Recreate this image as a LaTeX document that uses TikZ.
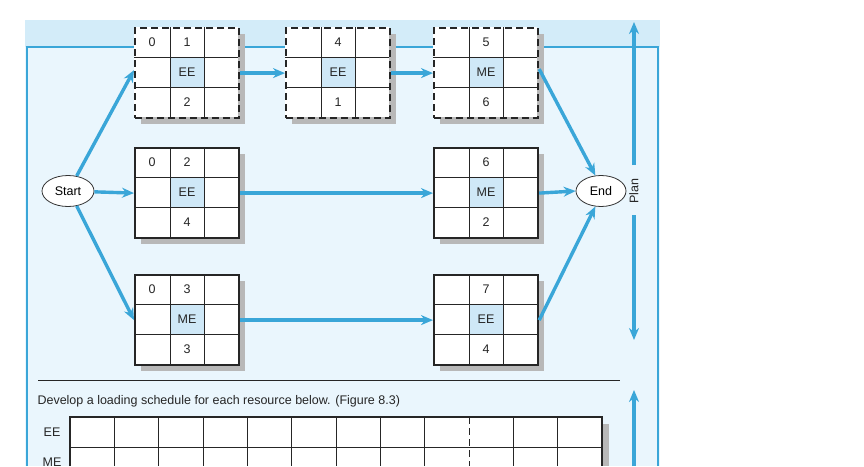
\documentclass[tikz,border=0pt]{standalone}
\usepackage{fontspec}
\setmainfont{Liberation Sans}
\usetikzlibrary{arrows.meta,shapes.geometric}
\definecolor{fb}{HTML}{3AA6D8}
\definecolor{bgl}{HTML}{EAF6FD}
\definecolor{bgd}{HTML}{D3ECF9}
\definecolor{cell}{HTML}{CFE8F7}
\definecolor{shd}{HTML}{B8B8B8}
\tikzset{x=1pt,y=-1pt,
 conn/.style={fb,line width=3.4pt,-{Stealth[length=12pt,width=10pt]}},
 lbl/.style={font=\fontsize{12.5}{14}\selectfont,text=black!85},
 gridl/.style={black!85,line width=0.8pt},
 ell/.style={ellipse,draw=black!80,fill=white,line width=0.8pt,minimum width=52pt,minimum height=31pt,inner sep=0pt,font=\fontsize{12.5}{14}\selectfont}}
\newcommand\actbox[8]{%
 \fill[shd] (#2+7,#3+7) rectangle (#2+111,#3+97);
 \fill[white] (#2,#3) rectangle (#2+104,#3+90);
 \fill[cell] (#2+36,#3+30) rectangle (#2+70,#3+60);
 \draw[gridl,line width=1pt] (#2+36,#3)--(#2+36,#3+90) (#2+70,#3)--(#2+70,#3+90)
   (#2,#3+30)--(#2+104,#3+30) (#2,#3+60)--(#2+104,#3+60);
 \node[draw=black!85,line width=2.2pt,#8,minimum width=104pt,minimum height=90pt,inner sep=0pt,anchor=north west] (#1) at (#2,#3) {};
 \node[lbl] at (#2+18,#3+15) {#4};
 \node[lbl] at (#2+53,#3+15) {#5};
 \node[lbl] at (#2+53,#3+45) {#6};
 \node[lbl] at (#2+53,#3+75) {#7};
}
\begin{document}
\begin{tikzpicture}
\useasboundingbox (0,0) rectangle (864,466);
\clip (0,0) rectangle (864,466);
\fill[bgl] (25,20) rectangle (660,466);
\fill[bgd] (25,20) rectangle (660,47);
\draw[fb,line width=2.6pt] (27,466)--(27,47)--(658,47)--(658,466);
\tikzset{dsh/.style={dash pattern=on 7pt off 4pt}}
\actbox{a1}{134}{27}{0}{1}{EE}{2}{dsh}
\actbox{a4}{285}{27}{}{4}{EE}{1}{dsh}
\actbox{a5}{433}{27}{}{5}{ME}{6}{dsh}
\actbox{a2}{134}{147}{0}{2}{EE}{4}{}
\actbox{a6}{433}{147}{}{6}{ME}{2}{}
\actbox{a3}{134}{274}{0}{3}{ME}{3}{}
\actbox{a7}{433}{274}{}{7}{EE}{4}{}
\node[ell] (start) at (68,191) {Start};
\node[ell,minimum width=50pt] (end) at (601,191) {End};
\draw[conn] (start.60) -- ([yshift=3pt]a1.west);
\draw[conn] (start) -- (a2.west);
\draw[conn] (start.-60) -- (a3.west);
\draw[conn] (a1.east) -- (a4.west);
\draw[conn] (a4.east) -- (a5.west);
\draw[conn] ([yshift=4pt]a5.east) -- (end.110);
\draw[conn] (a2.east) -- (a6.west);
\draw[conn] (a6.east) -- (end.west);
\draw[conn] (a3.east) -- (a7.west);
\draw[conn] (a7.east) -- (end.-110);
\node[lbl,rotate=90] (plan) at (634,191) {Plan};
\coordinate (pt) at (634,22);
\coordinate (pb) at (634,340);
\coordinate (p2t) at (634,390);
\coordinate (p2b) at (634,466);
\draw[conn] ([yshift=26pt]plan.center) -- (pt);
\draw[conn] ([yshift=-24pt]plan.center) -- (pb);
\draw[conn] (p2b) -- (p2t);
\draw[black!85,line width=0.9pt] (38,380)--(620,380);
\node[lbl,anchor=west] (dev) at (34,401) {Develop a loading schedule for each resource below. (Figure 8.3)};
\fill[shd] (602,424) rectangle (609,466);
\fill[white] (70,417) rectangle (602,466);
\foreach \i in {1,...,11}{\ifnum\i=9 \draw[gridl,line width=0.8pt,dash pattern=on 7pt off 4pt] (70+\i*44.33,417)--(70+\i*44.33,466);\else\draw[gridl,line width=0.8pt] (70+\i*44.33,417)--(70+\i*44.33,466);\fi}
\draw[gridl,line width=0.9pt] (70,447)--(602,447);
\draw[gridl,line width=2.2pt] (70,466)--(70,417)--(602,417)--(602,466);
\node[lbl] (ee) at (52,432) {EE};
\node[lbl] (me) at (52,462) {ME};
\end{tikzpicture}
\end{document}
